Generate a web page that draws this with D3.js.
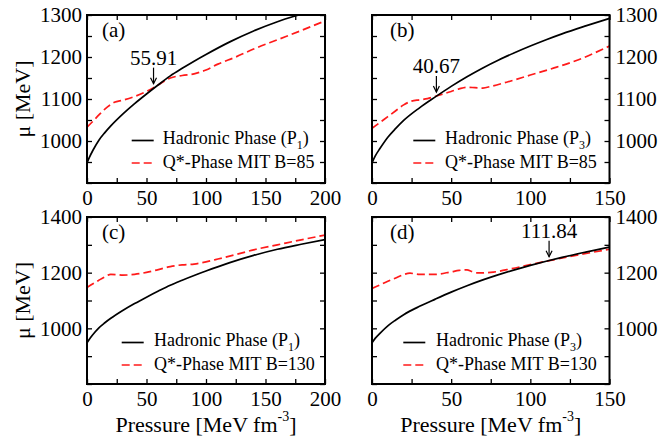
<!DOCTYPE html>
<html>
<head>
<meta charset="utf-8">
<script src="https://cdn.jsdelivr.net/npm/d3@7"></script>
<style>
  html, body { margin: 0; padding: 0; background: #fff; }
  svg, svg text { font-family: 'Liberation Serif', 'Times New Roman', Times, serif; }
  .tick line { stroke: #000; stroke-width: 1.3; }
  .domain { display: none; }
</style>
</head>
<body>
<div id="chart"></div>
<script>
// ===== 数据 =====
// Hadronic Phase (P1)，(a)(c) 共用
const pressureP1 = [0, 2, 5, 10, 15, 20, 30, 40, 50, 60, 70, 80, 90, 100, 120, 140, 160, 180, 200];
const muP1 = [948, 961, 978, 1002, 1020, 1036, 1064, 1089, 1112, 1134, 1155, 1173, 1190, 1206, 1236, 1262, 1284, 1302, 1319];

// Hadronic Phase (P3)，(b)(d) 共用
const pressureP3 = [0, 2, 5, 10, 15, 20, 30, 40, 50, 60, 70, 80, 90, 100, 110, 120, 135, 150];
const muP3 = [948, 964, 982, 1009, 1030, 1049, 1079, 1105, 1130, 1153, 1174, 1193, 1210, 1226, 1241, 1255, 1274, 1292];

// Q*-Phase MIT B=85，(a)
const pressureQ85a = [0, 5, 10, 15, 20, 23, 30, 40, 50, 55.91, 60, 70, 80, 90, 100, 110, 125, 140, 160, 180, 200];
const muQ85a = [1033, 1047, 1062, 1076, 1087, 1092, 1097, 1106, 1118, 1127, 1134, 1150, 1156, 1160, 1169, 1183, 1200, 1219, 1241, 1263, 1286];

// Q*-Phase MIT B=85，(b)
const pressureQ85b = [0, 5, 10, 15, 20, 25, 30, 35, 40.67, 45, 50, 55, 60, 65, 70, 75, 85, 100, 115, 130, 150];
const muQ85b = [1030, 1044, 1058, 1072, 1086, 1095, 1098, 1101, 1107, 1112, 1118, 1124, 1128, 1127, 1126, 1130, 1140, 1157, 1174, 1193, 1226];

// Q*-Phase MIT B=130，(c)
const pressureQ130c = [0, 5, 10, 15, 20, 25, 30, 40, 50, 60, 70, 80, 90, 100, 110, 125, 140, 160, 180, 200];
const muQ130c = [1147, 1160, 1173, 1185, 1194, 1193, 1191, 1194, 1201, 1211, 1222, 1228, 1231, 1239, 1249, 1265, 1282, 1300, 1318, 1335];

// Q*-Phase MIT B=130，(d)
const pressureQ130d = [0, 5, 10, 15, 20, 24, 30, 40, 50, 55, 60, 63, 67, 75, 88, 100, 111.84, 125, 140, 150];
const muQ130d = [1143, 1156, 1169, 1181, 1193, 1198, 1194, 1194, 1203, 1208, 1210, 1204, 1199, 1201, 1214, 1229, 1243, 1258, 1274, 1284];

// 交点标注
const crossA = { p: 55.91, mu: 1127, label: "55.91" };
const crossB = { p: 40.67, mu: 1107, label: "40.67" };
const crossD = { p: 111.84, mu: 1243, label: "111.84" };

const zip = (xs, ys) => xs.map((x, i) => [x, ys[i]]);
const FONT = "'Liberation Serif', 'Times New Roman', Times, serif";

// ===== 面板配置 =====
const panels = [
  { tag: "(a)", x0: 87, x1: 325, y0: 15, y1: 183, xMax: 200, yDom: [900, 1300], yStep: 50, yLab: 100,
    side: "left", sub: "1", B: "85", had: zip(pressureP1, muP1), q: zip(pressureQ85a, muQ85a),
    cross: crossA, legDx: 44.7, txtDx: 75.7, tagDx: 15, xTitle: false },
  { tag: "(b)", x0: 372, x1: 609.5, y0: 15, y1: 183, xMax: 150, yDom: [900, 1300], yStep: 50, yLab: 100,
    side: "right", sub: "3", B: "85", had: zip(pressureP3, muP3), q: zip(pressureQ85b, muQ85b),
    cross: crossB, legDx: 41.3, txtDx: 73, tagDx: 18, xTitle: false },
  { tag: "(c)", x0: 87, x1: 325, y0: 217, y1: 384, xMax: 200, yDom: [800, 1400], yStep: 100, yLab: 200,
    side: "left", sub: "1", B: "130", had: zip(pressureP1, muP1), q: zip(pressureQ130c, muQ130c),
    cross: null, legDx: 34.7, txtDx: 67, tagDx: 15, xTitle: true },
  { tag: "(d)", x0: 372, x1: 609.5, y0: 217, y1: 384, xMax: 150, yDom: [800, 1400], yStep: 100, yLab: 200,
    side: "right", sub: "3", B: "130", had: zip(pressureP3, muP3), q: zip(pressureQ130d, muQ130d),
    cross: crossD, legDx: 31.3, txtDx: 64, tagDx: 18, xTitle: true }
];

const W = 660, H = 439;
const svg = d3.select("#chart").append("svg").attr("width", W).attr("height", H)
  .attr("font-family", FONT);
const defs = svg.append("defs");

panels.forEach((p, i) => {
  const x = d3.scaleLinear().domain([0, p.xMax]).range([p.x0, p.x1]);
  const y = d3.scaleLinear().domain(p.yDom).range([p.y1, p.y0]);
  const g = svg.append("g").attr("font-family", FONT);

  const xt = d3.range(0, p.xMax + 0.1, 25);
  const yt = d3.range(p.yDom[0], p.yDom[1] + 0.1, p.yStep);
  const styleText = s => s.selectAll("text").attr("font-size", 21).attr("fill", "#000").attr("font-family", FONT);

  // 底部坐标轴（内向刻度）
  g.append("g").attr("transform", `translate(0,${p.y1})`)
    .call(d3.axisBottom(x).tickValues(xt).tickSizeInner(-5).tickSizeOuter(0).tickPadding(7)
      .tickFormat(d => d % 50 === 0 ? d : ""))
    .call(styleText);
  // 顶部镜像刻度
  g.append("g").attr("transform", `translate(0,${p.y0})`)
    .call(d3.axisTop(x).tickValues(xt).tickSizeInner(-5).tickSizeOuter(0).tickFormat(""));

  // 左右刻度
  const labFmt = d => (d % p.yLab === 0 && d !== p.yDom[0]) ? d : "";
  const yLeft = d3.axisLeft(y).tickValues(yt).tickSizeInner(-5).tickSizeOuter(0);
  const yRight = d3.axisRight(y).tickValues(yt).tickSizeInner(-5).tickSizeOuter(0);
  if (p.side === "left") { yLeft.tickFormat(labFmt).tickPadding(5); yRight.tickFormat(""); }
  else { yRight.tickFormat(labFmt).tickPadding(6); yLeft.tickFormat(""); }
  g.append("g").attr("transform", `translate(${p.x0},0)`).call(yLeft).call(styleText);
  g.append("g").attr("transform", `translate(${p.x1},0)`).call(yRight).call(styleText);

  // 裁剪
  defs.append("clipPath").attr("id", "clip" + i).append("rect")
    .attr("x", p.x0).attr("y", p.y0).attr("width", p.x1 - p.x0).attr("height", p.y1 - p.y0);

  const line = d3.line().x(d => x(d[0])).y(d => y(d[1])).curve(d3.curveMonotoneX);
  const plot = g.append("g").attr("clip-path", `url(#clip${i})`);
  plot.append("path").datum(p.q).attr("d", line).attr("fill", "none")
    .attr("stroke", "#ff1a1a").attr("stroke-width", 1.7).attr("stroke-dasharray", "8,4");
  plot.append("path").datum(p.had).attr("d", line).attr("fill", "none")
    .attr("stroke", "#000").attr("stroke-width", 1.7);

  // 边框
  g.append("rect").attr("x", p.x0).attr("y", p.y0).attr("width", p.x1 - p.x0).attr("height", p.y1 - p.y0)
    .attr("fill", "none").attr("stroke", "#000").attr("stroke-width", 2);

  // 面板标签
  g.append("text").attr("x", p.x0 + p.tagDx).attr("y", p.y0 + 22)
    .attr("font-size", 21).text(p.tag);

  // 交点标注
  if (p.cross) {
    const cx = x(p.cross.p);
    const tip = y(p.cross.mu) - 4;
    const top = tip - 16;
    g.append("text").attr("x", cx).attr("y", top - 3).attr("text-anchor", "middle")
      .attr("font-size", 21).text(p.cross.label);
    g.append("line").attr("x1", cx).attr("x2", cx).attr("y1", top).attr("y2", tip)
      .attr("stroke", "#000").attr("stroke-width", 1.2);
    g.append("path").attr("d", `M${cx - 3},${tip - 6}L${cx},${tip}L${cx + 3},${tip - 6}`)
      .attr("fill", "none").attr("stroke", "#000").attr("stroke-width", 1.2);
  }

  // 图例
  const lx = p.x0 + p.legDx, tx = p.x0 + p.txtDx;
  g.append("line").attr("x1", lx).attr("x2", lx + 22).attr("y1", p.y0 + 125.5).attr("y2", p.y0 + 125.5)
    .attr("stroke", "#000").attr("stroke-width", 1.7);
  g.append("line").attr("x1", lx).attr("x2", lx + 22).attr("y1", p.y0 + 148).attr("y2", p.y0 + 148)
    .attr("stroke", "#ff1a1a").attr("stroke-width", 1.7).attr("stroke-dasharray", "8,4");
  const t1 = g.append("text").attr("x", tx).attr("y", p.y0 + 128.5).attr("font-size", 18);
  t1.append("tspan").text("Hadronic Phase (P");
  t1.append("tspan").attr("font-size", 12).attr("dy", 5).text(p.sub);
  t1.append("tspan").attr("dy", -5).text(")");
  g.append("text").attr("x", tx).attr("y", p.y0 + 153).attr("font-size", 18)
    .text(`Q*-Phase MIT B=${p.B}`);

  // 横轴标题
  if (p.xTitle) {
    const t = g.append("text").attr("x", (p.x0 + p.x1) / 2).attr("y", 431.5)
      .attr("text-anchor", "middle").attr("font-size", 22);
    t.append("tspan").text("Pressure [MeV fm");
    t.append("tspan").attr("font-size", 14).attr("dy", -11).text("-3");
    t.append("tspan").attr("dy", 11).text("]");
  }
  // 纵轴标题
  if (p.side === "left") {
    g.append("text").attr("transform", `translate(30,${(p.y0 + p.y1) / 2}) rotate(-90)`)
      .attr("text-anchor", "middle").attr("font-size", 22).text("μ [MeV]");
  }
});
</script>
</body>
</html>
